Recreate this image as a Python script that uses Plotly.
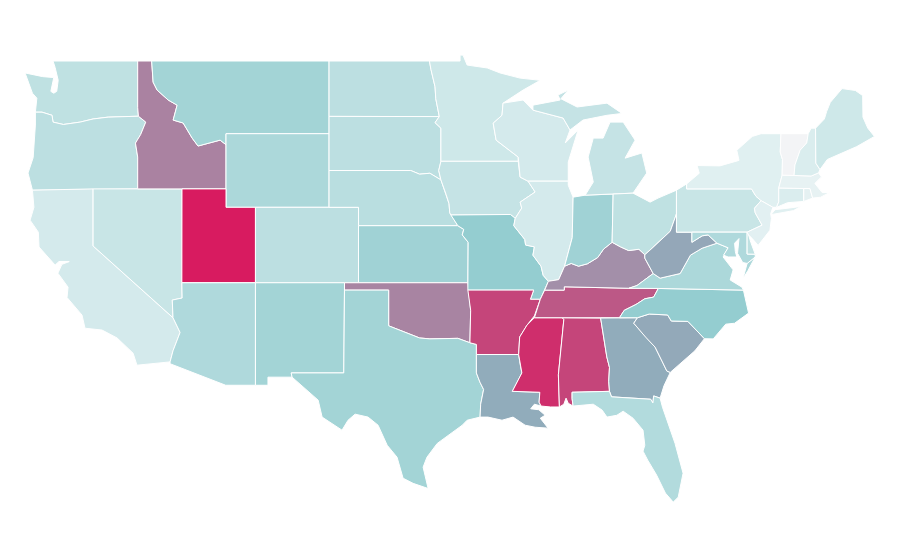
import plotly.graph_objects as go
from plotly.colors import sample_colorscale

# the cdn topojson is out of reach here, so the state outlines are kept as (lon, lat) rings
outlines = {
    "WA": [[(-122.8,48.95),(-117.05,48.95),(-117.05,46.42),(-117.0,45.95),(-119.06,45.9),(-120.08,45.8),(-120.96,45.63),(-122.1,45.5),(-122.8,45.63),(-122.87,46.0),(-123.55,46.17),(-124.0,46.17),(-123.9,46.93),(-124.2,47.2),(-124.45,47.75),(-124.7,48.3),(-123.5,48.1),(-122.75,48.05),(-122.95,47.3),(-122.75,47.2),(-122.55,47.3),(-122.45,47.9),(-122.66,48.6)]],
    "OR": [[(-124.0,46.17),(-123.55,46.17),(-122.87,46.0),(-122.8,45.63),(-122.1,45.5),(-120.96,45.63),(-120.08,45.8),(-119.06,45.9),(-117.0,45.95),(-116.5,45.63),(-116.85,44.95),(-117.2,44.49),(-117.05,43.73),(-117.05,42.0),(-124.2,41.93),(-124.5,42.86),(-124.15,43.7),(-124.0,45.47)]],
    "ID": [[(-117.05,48.95),(-116.1,48.95),(-116.0,47.8),(-115.73,47.37),(-114.98,46.83),(-114.37,46.55),(-114.64,45.74),(-113.96,45.58),(-113.35,44.76),(-112.95,44.33),(-111.45,44.65),(-111.05,44.4),(-111.05,42.0),(-114.04,42.0),(-117.05,42.0),(-117.05,43.73),(-117.2,44.49),(-116.85,44.95),(-116.5,45.63),(-117.0,45.95),(-117.05,46.42)]],
    "MT": [[(-116.1,48.95),(-104.05,48.95),(-104.05,45.0),(-111.05,45.0),(-111.05,44.4),(-111.45,44.65),(-112.95,44.33),(-113.35,44.76),(-113.96,45.58),(-114.64,45.74),(-114.37,46.55),(-114.98,46.83),(-115.73,47.37),(-116.0,47.8)]],
    "WY": [[(-111.05,45.0),(-104.05,45.0),(-104.05,41.0),(-111.05,41.0)]],
    "ND": [[(-104.05,48.95),(-97.23,48.95),(-97.13,48.5),(-96.85,47.55),(-96.8,46.9),(-96.56,45.93),(-104.05,45.94)]],
    "SD": [[(-104.05,45.94),(-96.56,45.93),(-96.85,45.6),(-96.45,45.3),(-96.45,43.5),(-96.6,43.0),(-96.45,42.49),(-97.2,42.85),(-97.9,42.8),(-98.5,43.0),(-104.05,43.0)]],
    "NE": [[(-104.05,43.0),(-98.5,43.0),(-97.9,42.8),(-97.2,42.85),(-96.45,42.49),(-96.1,41.7),(-95.9,41.2),(-95.85,40.7),(-95.3,40.0),(-102.05,40.0),(-102.05,41.0),(-104.05,41.0)]],
    "CO": [[(-109.05,41.0),(-102.05,41.0),(-102.05,36.9),(-109.05,36.9)]],
    "KS": [[(-102.05,40.0),(-95.3,40.0),(-94.9,39.8),(-95.0,39.5),(-94.6,39.1),(-94.62,36.9),(-102.05,36.9)]],
    "UT": [[(-114.04,42.0),(-111.05,42.0),(-111.05,41.0),(-109.05,41.0),(-109.05,36.9),(-114.05,36.9)]],
    "NV": [[(-120.08,42.0),(-114.04,42.0),(-114.05,36.9),(-114.03,36.07),(-114.7,35.96),(-114.65,35.0),(-120.08,38.9)]],
    "CA": [[(-124.2,41.93),(-120.08,42.0),(-120.08,38.9),(-114.65,35.0),(-114.17,34.2),(-114.65,33.2),(-114.85,32.6),(-117.1,32.42),(-117.36,33.07),(-118.45,33.9),(-119.47,34.33),(-120.63,34.43),(-120.83,35.14),(-121.85,36.1),(-121.78,36.66),(-122.47,37.42),(-122.2,37.9),(-121.7,38.05),(-122.4,38.05),(-122.66,37.86),(-123.75,38.84),(-123.8,39.65),(-124.36,40.3),(-124.1,41.0)]],
    "AZ": [[(-114.05,36.9),(-109.05,36.9),(-109.05,31.33),(-111.07,31.33),(-114.85,32.5),(-114.85,32.6),(-114.65,33.2),(-114.17,34.2),(-114.65,35.0),(-114.7,35.96),(-114.03,36.07)]],
    "NM": [[(-109.05,36.9),(-103.0,36.9),(-103.05,32.0),(-106.62,32.0),(-106.56,31.77),(-108.2,31.77),(-108.2,31.33),(-109.05,31.33)]],
    "OK": [[(-103.0,36.9),(-94.62,36.9),(-94.43,35.4),(-94.48,33.64),(-95.3,33.88),(-96.6,33.85),(-97.2,33.85),(-97.9,33.9),(-98.5,34.1),(-99.2,34.3),(-100.0,34.56),(-100.0,36.5),(-103.0,36.5)]],
    "TX": [[(-103.0,36.5),(-100.0,36.5),(-100.0,34.56),(-99.2,34.3),(-98.5,34.1),(-97.9,33.9),(-97.2,33.85),(-96.6,33.85),(-95.3,33.88),(-94.48,33.64),(-94.04,33.55),(-94.04,32.0),(-93.8,31.5),(-93.55,31.1),(-93.75,30.3),(-93.79,29.6),(-94.67,29.43),(-95.0,29.16),(-95.96,28.62),(-96.7,28.17),(-97.4,27.42),(-97.66,26.88),(-97.32,25.72),(-98.34,26.0),(-99.02,26.28),(-99.43,27.42),(-100.1,28.07),(-100.72,29.16),(-101.4,29.6),(-102.28,29.76),(-102.76,29.43),(-103.17,28.89),(-104.52,29.6),(-104.79,30.52),(-106.56,31.77),(-106.62,32.0),(-103.05,32.0)]],
    "MN": [[(-97.23,48.95),(-95.15,48.95),(-95.15,49.27),(-94.95,49.27),(-94.67,48.73),(-93.3,48.57),(-92.43,48.3),(-91.07,48.02),(-89.7,47.9),(-90.87,47.37),(-92.23,46.66),(-92.3,46.0),(-92.9,45.57),(-92.7,44.65),(-91.2,43.73),(-91.2,43.5),(-96.45,43.5),(-96.45,45.3),(-96.85,45.6),(-96.56,45.93),(-96.8,46.9),(-96.85,47.55),(-97.13,48.5)]],
    "IA": [[(-96.45,43.5),(-91.2,43.5),(-91.07,42.64),(-90.53,42.42),(-90.05,41.83),(-91.07,41.28),(-90.96,40.96),(-91.4,40.4),(-91.73,40.61),(-95.77,40.58),(-95.85,40.7),(-95.9,41.2),(-96.1,41.7),(-96.45,42.49),(-96.6,43.0)]],
    "MO": [[(-95.77,40.58),(-91.73,40.61),(-91.4,40.4),(-91.5,40.0),(-90.75,39.25),(-90.7,38.95),(-90.1,38.85),(-90.2,38.4),(-89.65,37.8),(-89.5,37.3),(-89.15,36.98),(-89.4,36.5),(-89.7,36.0),(-90.37,36.0),(-90.15,36.5),(-94.62,36.5),(-94.62,36.9),(-94.6,39.1),(-95.0,39.5),(-94.9,39.8),(-95.3,40.0)]],
    "AR": [[(-94.62,36.5),(-90.15,36.5),(-90.37,36.0),(-89.7,36.0),(-90.1,35.1),(-90.6,34.6),(-91.1,33.95),(-91.17,33.0),(-94.04,33.0),(-94.04,33.55),(-94.48,33.64),(-94.43,35.4)]],
    "LA": [[(-94.04,33.0),(-91.17,33.0),(-91.05,32.4),(-90.95,32.0),(-91.6,31.0),(-89.73,30.95),(-89.78,30.41),(-89.65,30.2),(-90.1,30.3),(-90.35,30.05),(-89.8,30.0),(-89.37,29.7),(-89.7,29.54),(-89.17,29.0),(-90.05,29.05),(-90.73,29.16),(-91.55,29.6),(-92.3,29.43),(-93.25,29.6),(-93.79,29.6),(-93.75,30.3),(-93.55,31.1),(-93.8,31.5),(-94.04,32.0)]],
    "MS": [[(-90.1,35.0),(-88.2,35.0),(-88.1,34.9),(-88.47,31.9),(-88.4,30.15),(-89.0,30.15),(-89.65,30.2),(-89.78,30.41),(-89.73,30.95),(-91.6,31.0),(-90.95,32.0),(-91.05,32.4),(-91.17,33.0),(-91.1,33.95),(-90.6,34.6)]],
    "AL": [[(-88.2,35.0),(-85.6,34.98),(-85.18,32.87),(-85.0,32.3),(-85.05,31.55),(-85.0,31.0),(-87.54,30.95),(-87.54,30.6),(-87.47,30.2),(-87.8,30.35),(-87.95,30.63),(-88.1,30.3),(-88.4,30.15),(-88.47,31.9),(-88.1,34.9)]],
    "FL": [[(-87.54,30.95),(-85.0,31.0),(-84.86,30.7),(-82.2,30.57),(-82.05,30.37),(-82.0,30.75),(-81.56,30.63),(-81.4,30.14),(-80.55,28.18),(-80.0,26.55),(-80.33,25.25),(-80.67,24.98),(-81.2,25.47),(-81.8,26.45),(-82.4,27.26),(-82.72,27.75),(-82.6,28.07),(-82.72,28.89),(-83.4,29.54),(-84.07,29.92),(-84.5,29.7),(-85.17,29.6),(-85.5,29.98),(-86.1,30.3),(-87.47,30.2),(-87.54,30.6)]],
    "GA": [[(-85.6,34.98),(-83.1,35.0),(-83.35,34.7),(-82.55,33.95),(-81.9,33.4),(-81.4,32.6),(-81.1,32.1),(-80.87,32.03),(-81.3,31.3),(-81.56,30.63),(-82.0,30.75),(-82.05,30.37),(-82.2,30.57),(-84.86,30.7),(-85.0,31.0),(-85.05,31.55),(-85.0,32.3),(-85.18,32.87)]],
    "SC": [[(-83.1,35.0),(-82.3,35.2),(-81.05,35.15),(-80.8,34.82),(-79.67,34.8),(-78.55,33.86),(-79.2,33.2),(-79.9,32.7),(-80.87,32.03),(-81.1,32.1),(-81.4,32.6),(-81.9,33.4),(-82.55,33.95),(-83.35,34.7)]],
    "NC": [[(-84.32,35.0),(-83.1,35.0),(-82.3,35.2),(-81.05,35.15),(-80.8,34.82),(-79.67,34.8),(-78.55,33.86),(-77.95,33.85),(-77.1,34.65),(-76.5,34.7),(-75.55,35.25),(-75.9,36.5),(-81.68,36.59),(-82.0,36.12),(-82.6,36.03),(-83.2,35.72),(-84.0,35.4)]],
    "TN": [[(-90.1,35.0),(-88.2,35.0),(-85.6,34.98),(-84.32,35.0),(-84.0,35.4),(-83.2,35.72),(-82.6,36.03),(-82.0,36.12),(-81.68,36.59),(-83.68,36.6),(-88.07,36.68),(-88.07,36.5),(-89.4,36.5),(-89.7,36.0)]],
    "KY": [[(-89.4,36.5),(-88.07,36.5),(-88.07,36.68),(-83.68,36.6),(-83.13,36.75),(-82.03,37.4),(-82.6,38.24),(-82.6,38.42),(-83.0,38.72),(-83.7,38.65),(-84.25,38.85),(-84.82,39.1),(-85.4,38.73),(-85.8,38.27),(-86.5,37.93),(-87.1,37.8),(-87.6,37.95),(-88.05,37.8),(-88.45,37.07),(-89.15,36.98)]],
    "IL": [[(-87.8,42.42),(-90.53,42.42),(-90.05,41.83),(-91.07,41.28),(-90.96,40.96),(-91.4,40.4),(-91.5,40.0),(-90.75,39.25),(-90.7,38.95),(-90.1,38.85),(-90.2,38.4),(-89.65,37.8),(-89.5,37.3),(-89.15,36.98),(-88.45,37.07),(-88.05,37.8),(-87.53,39.35),(-87.47,41.55),(-87.8,42.2)]],
    "IN": [[(-87.47,41.55),(-86.65,41.66),(-84.75,41.72),(-84.82,39.1),(-85.4,38.73),(-85.8,38.27),(-86.5,37.93),(-87.1,37.8),(-87.6,37.95),(-88.05,37.8),(-87.53,39.35)]],
    "OH": [[(-84.75,41.72),(-83.4,41.77),(-82.24,41.28),(-81.7,41.5),(-80.45,41.93),(-80.45,40.64),(-80.87,39.7),(-81.55,39.2),(-82.1,38.78),(-82.6,38.42),(-83.0,38.72),(-83.7,38.65),(-84.25,38.85),(-84.82,39.1)]],
    "WI": [[(-92.23,46.66),(-90.87,46.83),(-90.2,46.28),(-88.15,45.85),(-87.68,45.2),(-88.0,44.5),(-87.13,45.2),(-87.8,43.46),(-87.8,42.42),(-90.53,42.42),(-91.07,42.64),(-91.2,43.5),(-91.2,43.73),(-92.7,44.65),(-92.9,45.57),(-92.3,46.0)]],
    "MI": [[(-90.2,46.28),(-90.2,46.55),(-88.35,46.83),(-88.5,47.1),(-87.8,47.37),(-88.3,46.9),(-87.2,46.45),(-85.17,46.66),(-84.15,46.1),(-85.17,46.0),(-86.8,45.74),(-87.68,45.2),(-88.15,45.85)],
           [(-86.65,41.66),(-84.75,41.72),(-83.4,41.77),(-82.47,42.86),(-82.8,43.95),(-83.94,43.67),(-83.26,44.65),(-84.07,45.63),(-84.96,45.63),(-85.43,44.76),(-86.1,44.76),(-86.45,43.73),(-86.1,42.37)]],
    "PA": [[(-80.45,41.93),(-79.76,42.27),(-79.76,42.0),(-75.35,42.0),(-75.05,41.6),(-74.7,41.36),(-75.15,40.95),(-75.1,40.7),(-74.63,40.03),(-75.65,39.65),(-80.45,39.65),(-80.45,40.64)]],
    "NY": [[(-79.76,42.27),(-78.9,42.85),(-79.05,43.27),(-77.5,43.25),(-76.2,43.55),(-76.35,44.1),(-75.3,44.85),(-74.7,45.0),(-73.35,45.0),(-73.4,44.0),(-73.25,43.6),(-73.27,42.75),(-73.5,42.05),(-73.5,41.3),(-73.65,41.0),(-73.9,41.0),(-74.7,41.36),(-75.05,41.6),(-75.35,42.0),(-79.76,42.0)],
           [(-74.03,40.6),(-73.75,40.87),(-72.6,40.98),(-72.0,41.05),(-72.5,40.82)]],
    "NJ": [[(-74.7,41.36),(-73.9,41.0),(-74.05,40.65),(-74.0,40.4),(-74.1,39.75),(-74.9,38.93),(-75.3,39.3),(-75.55,39.5),(-75.65,39.65),(-74.63,40.03),(-75.1,40.7),(-75.15,40.95)]],
    "DE": [[(-75.65,39.65),(-75.55,39.5),(-75.4,39.1),(-75.1,38.45),(-75.65,38.46)]],
    "MD": [[(-79.4,39.65),(-75.65,39.65),(-75.65,38.46),(-75.1,38.45),(-75.1,38.3),(-75.65,37.95),(-75.95,38.0),(-76.3,38.5),(-76.2,39.3),(-76.5,39.05),(-76.45,38.6),(-76.35,38.3),(-76.94,38.3),(-77.25,38.4),(-76.94,38.8),(-77.7,39.05),(-78.3,39.5),(-78.7,39.45),(-79.4,39.1)]],
    "WV": [[(-80.45,40.64),(-80.45,39.65),(-79.4,39.65),(-79.4,39.1),(-78.7,39.45),(-78.3,39.5),(-77.7,39.05),(-78.7,38.78),(-79.5,38.4),(-80.2,37.4),(-81.56,37.15),(-82.03,37.4),(-82.6,38.24),(-82.6,38.42),(-82.1,38.78),(-81.55,39.2),(-80.87,39.7)]],
    "VA": [[(-83.68,36.6),(-81.68,36.59),(-75.9,36.5),(-76.0,36.66),(-76.8,37.05),(-76.6,37.6),(-77.28,38.3),(-76.94,38.8),(-77.7,39.05),(-78.7,38.78),(-79.5,38.4),(-80.2,37.4),(-81.56,37.15),(-82.03,37.4),(-83.13,36.75)],
           [(-75.1,38.3),(-75.65,37.95),(-75.92,37.15),(-75.6,37.55)]],
    "CT": [[(-73.5,42.05),(-71.8,42.02),(-71.8,41.32),(-72.9,41.25),(-73.65,41.0),(-73.5,41.3)]],
    "RI": [[(-71.8,42.02),(-71.38,42.02),(-71.2,41.5),(-71.8,41.32)]],
    "MA": [[(-73.5,42.05),(-73.27,42.75),(-71.3,42.7),(-70.8,42.87),(-70.6,42.65),(-71.05,42.3),(-70.55,41.8),(-70.05,41.8),(-70.3,41.7),(-70.65,41.55),(-71.2,41.5),(-71.38,42.02),(-71.8,42.02)]],
    "VT": [[(-73.35,45.0),(-71.5,45.0),(-71.6,44.5),(-72.05,44.1),(-72.4,43.3),(-72.46,42.73),(-73.27,42.75),(-73.25,43.6),(-73.4,44.0)]],
    "NH": [[(-71.5,45.0),(-71.3,45.3),(-71.0,45.3),(-70.98,43.4),(-70.7,43.05),(-70.8,42.87),(-71.3,42.7),(-72.46,42.73),(-72.4,43.3),(-72.05,44.1),(-71.6,44.5)]],
    "ME": [[(-71.0,45.3),(-70.4,45.8),(-70.25,46.2),(-70.0,46.7),(-69.2,47.45),(-68.3,47.35),(-67.8,47.07),(-67.78,45.9),(-67.45,45.3),(-67.0,44.85),(-68.2,44.3),(-69.1,44.0),(-70.2,43.6),(-70.7,43.05),(-70.98,43.4)]],
}

states = ["WA","OR","CA","NV","ID","MT","WY","UT","AZ","CO","NM","ND","SD","NE","KS","OK","TX","MN","IA","MO","AR","LA","WI","IL","MS","AL","TN","KY","IN","MI","OH","GA","FL","SC","NC","VA","WV","PA","NY","MD","DE","NJ","CT","RI","MA","VT","NH","ME"]
values = [19,20,12,16,63,28,25,100,24,20,28,20,20,21,29,62,28,14,17,33,85,46,12,12,93,85,78,58,29,17,19,46,23,47,33,25,48,16,8,24,19,7,10,6,5,0,10,14]

colorscale = [[0,"#f3f4f6"],[0.08,"#e0f0f1"],[0.35,"#8ecacd"],[0.45,"#90aebc"],[0.6,"#a68aa6"],[1,"#d81b60"]]

fig = go.Figure()
for state, value in zip(states, values):
    lons, lats = [], []
    for ring in outlines[state]:
        lons += [p[0] for p in ring] + [ring[0][0], None]
        lats += [p[1] for p in ring] + [ring[0][1], None]
    fig.add_trace(go.Scatter(
        x=lons,
        y=lats,
        mode="lines",
        fill="toself",
        fillcolor=sample_colorscale(colorscale, value / 100)[0],
        line=dict(color="white", width=1),
        name=state,
        hoveron="fills",
        text=state,
    ))

# ranges allow for the 8px page margin around the fixed size figure
fig.update_xaxes(visible=False, range=[-125.86, -64.72], fixedrange=True)
fig.update_yaxes(visible=False, range=[21.4, 51.83], fixedrange=True)
fig.update_layout(
    width=900,
    height=560,
    margin=dict(l=0, r=0, t=0, b=0),
    paper_bgcolor="white",
    plot_bgcolor="white",
    showlegend=False,
)
fig.write_html("out.html")
